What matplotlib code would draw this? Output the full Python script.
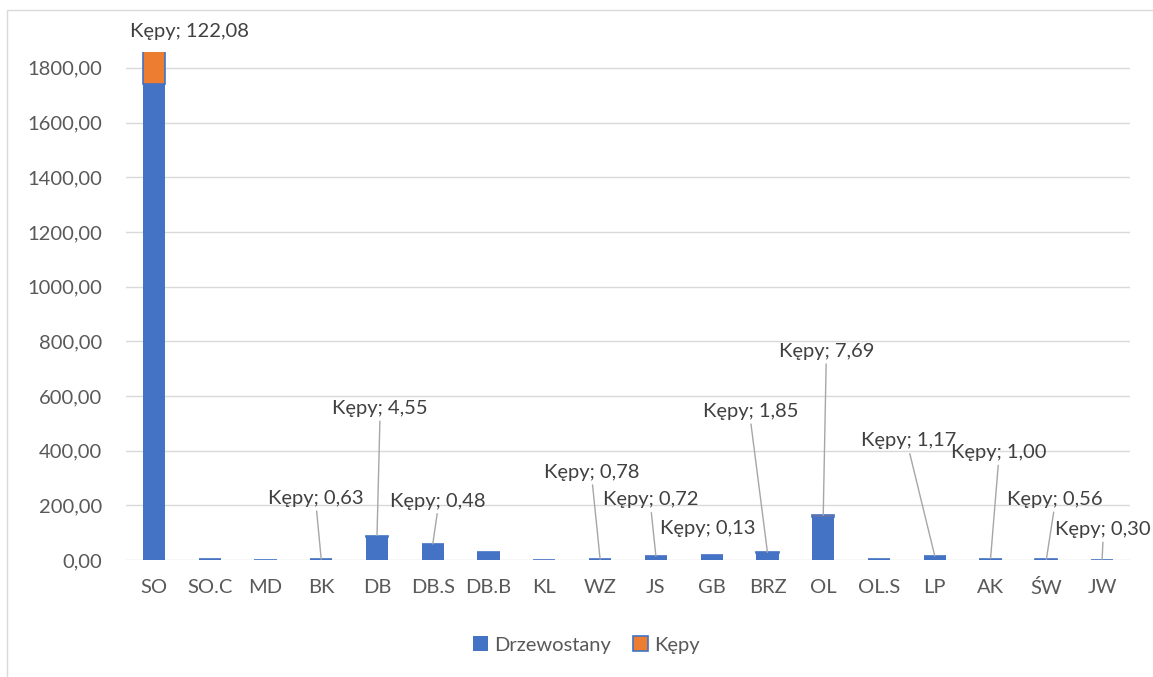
import numpy as np
import matplotlib.pyplot as plt
from matplotlib.patches import Rectangle

plt.rcParams['font.family'] = ['Lato', 'DejaVu Sans']

# data
gatunki = ['SO', 'SO.C', 'MD', 'BK', 'DB', 'DB.S', 'DB.B', 'KL', 'WZ', 'JS',
           'GB', 'BRZ', 'OL', 'OL.S', 'LP', 'AK', 'ŚW', 'JW']
drzewostany = [1740.0, 5.0, 1.0, 2.0, 85.0, 58.0, 29.0, 0.0, 2.0, 14.0,
               17.0, 26.0, 156.0, 4.0, 13.5, 4.0, 1.5, 1.5]
kepy = [122.08, 0, 0, 0.63, 4.55, 0.48, 0, 0, 0.78, 0.72,
        0.13, 1.85, 7.69, 0, 1.17, 1.00, 0.56, 0.30]

# label offsets in pixels (dx, dy) from the top of each stacked bar, None = no label
label_off = [(36, 19), None, None, (-5, 61), (3, 127), (5, 43), None, None, (-8, 87), (-5, 56),
             (-4, 27), (-17, 141), (3, 164), None, (-26, 115), (8, 106), (8, 60), (1, 30)]
no_line = {'SO', 'GB'}

blue = '#4472C4'
orange = '#ED7D31'
grey_txt = '#595959'
fs = 14.5

fig = plt.figure(figsize=(11.53, 6.77), dpi=100)
ax = fig.add_axes([126 / 1153, 1 - 560 / 677, (1130 - 126) / 1153, (560 - 52) / 677])

# outer chart border (cut off on the right/bottom like the screenshot)
fig.patches.append(Rectangle((7 / 1153, -0.1), 1.2, 1 - 10 / 677 + 0.1, transform=fig.transFigure,
                             fill=False, edgecolor='#d9d9d9', linewidth=1))

x = np.arange(len(gatunki))
ax.bar(x, drzewostany, width=0.4, color=blue, label='Drzewostany', zorder=3)
ax.bar(x, kepy, width=0.4, bottom=drzewostany, color=orange, edgecolor=blue,
       linewidth=1.2, label='Kępy', zorder=3)

ax.set_xlim(-0.5, len(gatunki) - 0.5)
ax.set_ylim(0, 1858)
ax.set_yticks(np.arange(0, 1801, 200))
ax.set_yticklabels([f'{v:.2f}'.replace('.', ',') for v in np.arange(0, 1801, 200)])
ax.set_xticks(x)
ax.set_xticklabels(gatunki)
ax.tick_params(axis='both', length=0, labelsize=fs, labelcolor=grey_txt)
ax.tick_params(axis='x', pad=14)
ax.tick_params(axis='y', pad=17)
for s in ax.spines.values():
    s.set_visible(False)
ax.grid(axis='y', color='#d9d9d9', linewidth=1, zorder=0)

for i, off in enumerate(label_off):
    if off is None:
        continue
    top = drzewostany[i] + kepy[i]
    txt = 'Kępy; ' + f'{kepy[i]:.2f}'.replace('.', ',')
    arrow = None
    if gatunki[i] not in no_line:
        arrow = dict(arrowstyle='-', color='#a6a6a6', lw=1, relpos=(0.5, 0), shrinkA=1, shrinkB=0)
    ax.annotate(txt, xy=(x[i], top), xytext=off, textcoords='offset pixels',
                ha='center', va='center', fontsize=fs, color='#404040',
                arrowprops=arrow, zorder=5, annotation_clip=False)

fig.legend(loc='center', bbox_to_anchor=(586 / 1153, 1 - 645 / 677), ncol=2, frameon=False,
           fontsize=fs, labelcolor=grey_txt, handlelength=0.75, handleheight=0.75,
           handletextpad=0.3, columnspacing=1.1)

fig.savefig('out.png', dpi=100)
